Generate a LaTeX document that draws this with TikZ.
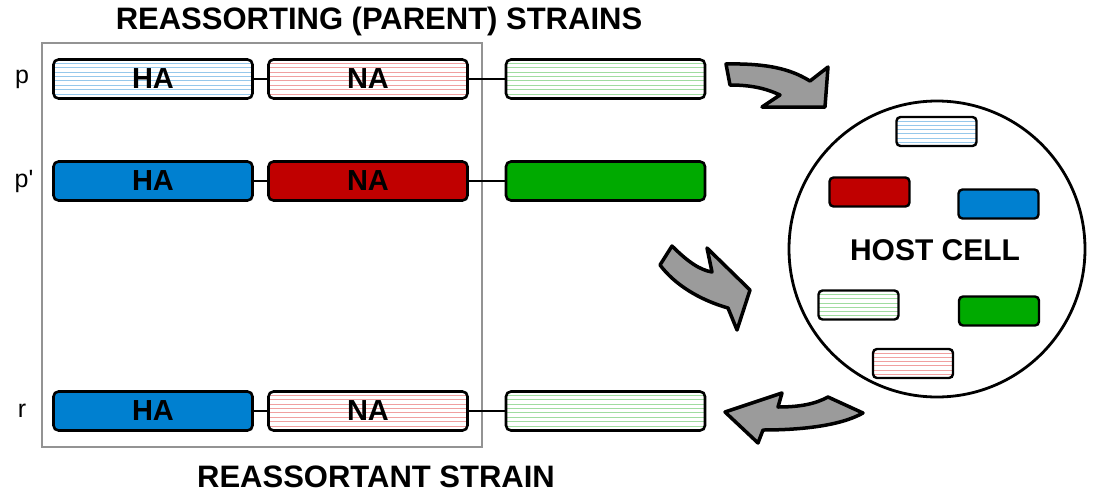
\documentclass[tikz,border=0pt]{standalone}
\usepackage{fontspec}
\setmainfont{Liberation Sans}
\newfontfamily\rawfont{Liberation Sans}
\usetikzlibrary{calc}
\definecolor{segblue}{RGB}{0,128,208}
\definecolor{segred}{RGB}{192,0,0}
\definecolor{seggreen}{RGB}{0,170,0}
\definecolor{hblue}{RGB}{150,200,235}
\definecolor{hred}{RGB}{240,160,160}
\definecolor{hgreen}{RGB}{160,220,160}
\definecolor{arrowgray}{RGB}{155,155,155}
\tikzset{
  seg/.style={draw=black, line width=2.6pt, rounded corners=5pt, minimum width=199pt, minimum height=39pt, inner sep=0pt, font=\bfseries\fontsize{29}{29}\selectfont},
  smallseg/.style={draw=black, line width=2.4pt, rounded corners=4pt, minimum width=80pt, minimum height=29pt, inner sep=0pt},
  hatch/.style={fill=white, path picture={\foreach \k in {1,...,8}{\draw[#1, line width=0.9pt] ([yshift=-\k*4.4pt+0.6pt]path picture bounding box.north west) -- ([yshift=-\k*4.4pt+0.6pt]path picture bounding box.north east);}}},
  smallhatch/.style={fill=white, path picture={\foreach \k in {1,...,6}{\draw[#1, line width=0.9pt] ([yshift=-\k*4.2pt]path picture bounding box.north west) -- ([yshift=-\k*4.2pt]path picture bounding box.north east);}}},
  link/.style={line width=2.4pt},
  bigarrow/.style={draw=black, fill=arrowgray, line width=3.5pt, line join=round},
  rowlabel/.style={font=\rawfont\fontsize{25}{25}\selectfont, anchor=center},
  title/.style={font=\bfseries\fontsize{31}{31}\selectfont}
}
\begin{document}
\begin{tikzpicture}[x=1pt,y=-1pt]
\useasboundingbox (0,0) rectangle (1096,493);
% frame
\node[draw=gray!85, line width=2.5pt, minimum width=440pt, minimum height=404pt, inner sep=0pt] (frame) at (262,245) {};
% titles
\node[title] (toptitle) at (379,21) {REASSORTING (PARENT) STRAINS};
\node[title] (bottitle) at (376,477) {REASSORTANT STRAIN};
% row labels
\node[rowlabel] (lp) at (22,79) {p};
\node[rowlabel] (lpp) at (24,181) {p'};
\node[rowlabel] (lr) at (22,411) {r};
% row p
\node[seg, hatch=hblue] (pha) at (153,79) {HA};
\node[seg, hatch=hred] (pna) at (368,79) {NA};
\node[seg, hatch=hgreen] (pg) at (605.5,79) {};
\draw[link] (pha) -- (pna);
\draw[link] (pna) -- (pg);
% row p'
\node[seg, fill=segblue] (ppha) at (153,181) {HA};
\node[seg, fill=segred] (ppna) at (368,181) {NA};
\node[seg, fill=seggreen] (ppg) at (605.5,181) {};
\draw[link] (ppha) -- (ppna);
\draw[link] (ppna) -- (ppg);
% row r
\node[seg, fill=segblue] (rha) at (153,411) {HA};
\node[seg, hatch=hred] (rna) at (368,411) {NA};
\node[seg, hatch=hgreen] (rg) at (605.5,411) {};
\draw[link] (rha) -- (rna);
\draw[link] (rna) -- (rg);
% host cell
\node[draw=black, line width=2.8pt, circle, minimum size=296pt, inner sep=0pt] (cell) at (937,249) {};
\node[font=\bfseries\fontsize{30}{30}\selectfont] (celltext) at (935,250) {HOST CELL};
\node[smallseg, smallhatch=hblue] (c1) at (936.5,131.5) {};
\node[smallseg, fill=segred] (c2) at (869.5,192) {};
\node[smallseg, fill=segblue] (c3) at (998.5,204) {};
\node[smallseg, smallhatch=hgreen] (c4) at (858.5,305) {};
\node[smallseg, fill=seggreen] (c5) at (999,311) {};
\node[smallseg, smallhatch=hred] (c6) at (913,363.5) {};
% arrows
\draw[bigarrow] (726,64) .. controls (775,63) and (795,72) .. (810,81) -- (828,67) -- (825,107) -- (762,107) -- (780,95) .. controls (765,88) and (750,85) .. (730,85) -- cycle;
\draw[bigarrow] (672,246) .. controls (688,262) and (700,270) .. (712,272) -- (707,248) -- (750,290) -- (737,330) -- (728,308) .. controls (700,300) and (675,285) .. (660,265) -- cycle;
\draw[bigarrow] (725,412) -- (782,393) -- (778,407) .. controls (800,407) and (815,404) .. (828,397) -- (863,413) .. controls (840,426) and (800,430) .. (763,430) -- (758,443) -- cycle;
\end{tikzpicture}
\end{document}
